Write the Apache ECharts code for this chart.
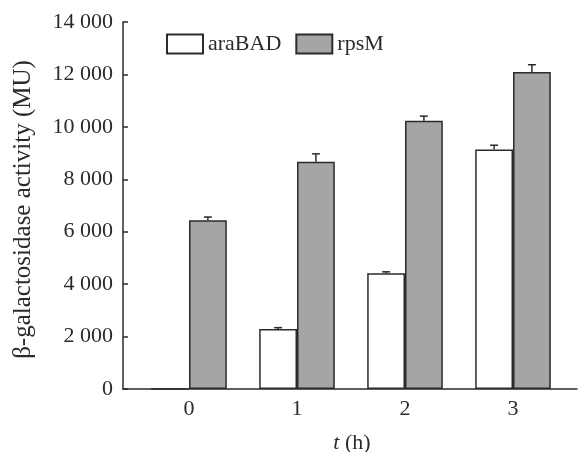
<!DOCTYPE html>
<html>
<head>
    <meta charset="UTF-8">
    <title>beta-galactosidase activity</title>
    <script src="https://cdn.jsdelivr.net/npm/echarts@6/dist/echarts.min.js"></script>
    <style>
        html, body { margin: 0; padding: 0; background: #fff; }
        #chart { width: 578px; height: 452px; }
    </style>
</head>
<body>
    <div id="chart"></div>
    <script>
        // data
        var categories = ['0', '1', '2', '3'];
        var araBAD = [0, 2290, 4420, 9140];
        var araBADErr = [0, 50, 50, 160];
        var rpsM = [6440, 8670, 10230, 12090];
        var rpsMErr = [120, 300, 180, 280];
        var yTicks = [0, 2000, 4000, 6000, 8000, 10000, 12000, 14000];

        var font = '"Liberation Serif", "Times New Roman", serif';
        var ink = '#2b2b2b';

        function fmt(v) {
            if (v < 1000) return String(v);
            return Math.floor(v / 1000) + ' ' + String(v % 1000).padStart(3, '0');
        }

        // one-sided error bar, side = -1 (left bar) or 1 (right bar)
        function errBar(side) {
            return function (params, api) {
                var i = api.value(0);
                var val = api.value(1);
                var err = api.value(2);
                if (!err) return;
                var band = api.size([1, 0])[0];
                var dx = side * band * 0.175;
                var top = api.coord([i, val + err]);
                var base = api.coord([i, val]);
                var x = top[0] + dx;
                var style = { stroke: ink, lineWidth: 1.5 };
                return {
                    type: 'group',
                    children: [
                        { type: 'line', shape: { x1: x, y1: base[1], x2: x, y2: top[1] }, style: style },
                        { type: 'line', shape: { x1: x - 4, y1: top[1], x2: x + 4, y2: top[1] }, style: style }
                    ]
                };
            };
        }

        var chart = echarts.init(document.getElementById('chart'));
        var option = {
            animation: false,
            backgroundColor: '#fff',
            textStyle: { fontFamily: font, color: ink },
            legend: {
                left: 161, top: 28,
                itemWidth: 36, itemHeight: 19, itemGap: 14,
                icon: 'rect',
                data: ['araBAD', 'rpsM'],
                textStyle: { fontFamily: font, fontSize: 22, color: ink }
            },
            grid: [
                { left: 123, right: 1, top: 22, bottom: 63, outerBoundsMode: 'none', containLabel: false },
                { left: 135, right: 11, top: 22, bottom: 63, outerBoundsMode: 'none', containLabel: false }
            ],
            xAxis: [
                {
                    type: 'value', gridIndex: 0, min: 0, max: 1,
                    axisLine: { show: true, lineStyle: { color: ink, width: 1.5 } },
                    axisTick: { show: false }, axisLabel: { show: false }, splitLine: { show: false },
                    name: '{i|t} (h)', nameLocation: 'middle', nameGap: 43,
                    nameTextStyle: {
                        fontFamily: font, fontSize: 22, color: ink, padding: [0, 0, 0, 4],
                        rich: { i: { fontFamily: font, fontSize: 22, fontStyle: 'italic', color: ink } }
                    }
                },
                {
                    type: 'category', gridIndex: 1, data: categories,
                    axisLine: { show: false }, axisTick: { show: false },
                    axisLabel: { fontFamily: font, fontSize: 22, color: ink, margin: 9 }
                }
            ],
            yAxis: [
                {
                    type: 'value', gridIndex: 0, min: yTicks[0], max: yTicks[yTicks.length - 1], interval: 2000,
                    axisLine: { show: true, lineStyle: { color: ink, width: 1.5 } },
                    axisTick: { show: true, inside: true, length: 5, lineStyle: { color: ink, width: 1.5 } },
                    splitLine: { show: false },
                    axisLabel: { fontFamily: font, fontSize: 22, color: ink, margin: 10, formatter: fmt },
                    name: 'β-galactosidase activity (MU)', nameLocation: 'middle', nameGap: 87,
                    nameTextStyle: { fontFamily: font, fontSize: 25, color: ink, padding: [0, 8, 0, 0] }
                },
                {
                    type: 'value', gridIndex: 1, min: yTicks[0], max: yTicks[yTicks.length - 1], show: false
                }
            ],
            series: [
                {
                    name: 'araBAD', type: 'bar', xAxisIndex: 1, yAxisIndex: 1,
                    data: araBAD, barWidth: '35%', barGap: '0%',
                    itemStyle: { color: '#ffffff', borderColor: ink, borderWidth: 1.5 }
                },
                {
                    name: 'rpsM', type: 'bar', xAxisIndex: 1, yAxisIndex: 1,
                    data: rpsM, barWidth: '35%', barGap: '0%',
                    itemStyle: { color: '#a5a5a5', borderColor: ink, borderWidth: 1.5 }
                },
                {
                    name: 'araBAD err', type: 'custom', xAxisIndex: 1, yAxisIndex: 1,
                    renderItem: errBar(-1),
                    data: araBAD.map(function (v, i) { return [i, v, araBADErr[i]]; }),
                    z: 3
                },
                {
                    name: 'rpsM err', type: 'custom', xAxisIndex: 1, yAxisIndex: 1,
                    renderItem: errBar(1),
                    data: rpsM.map(function (v, i) { return [i, v, rpsMErr[i]]; }),
                    z: 3
                }
            ]
        };
        chart.setOption(option);
    </script>
</body>
</html>
